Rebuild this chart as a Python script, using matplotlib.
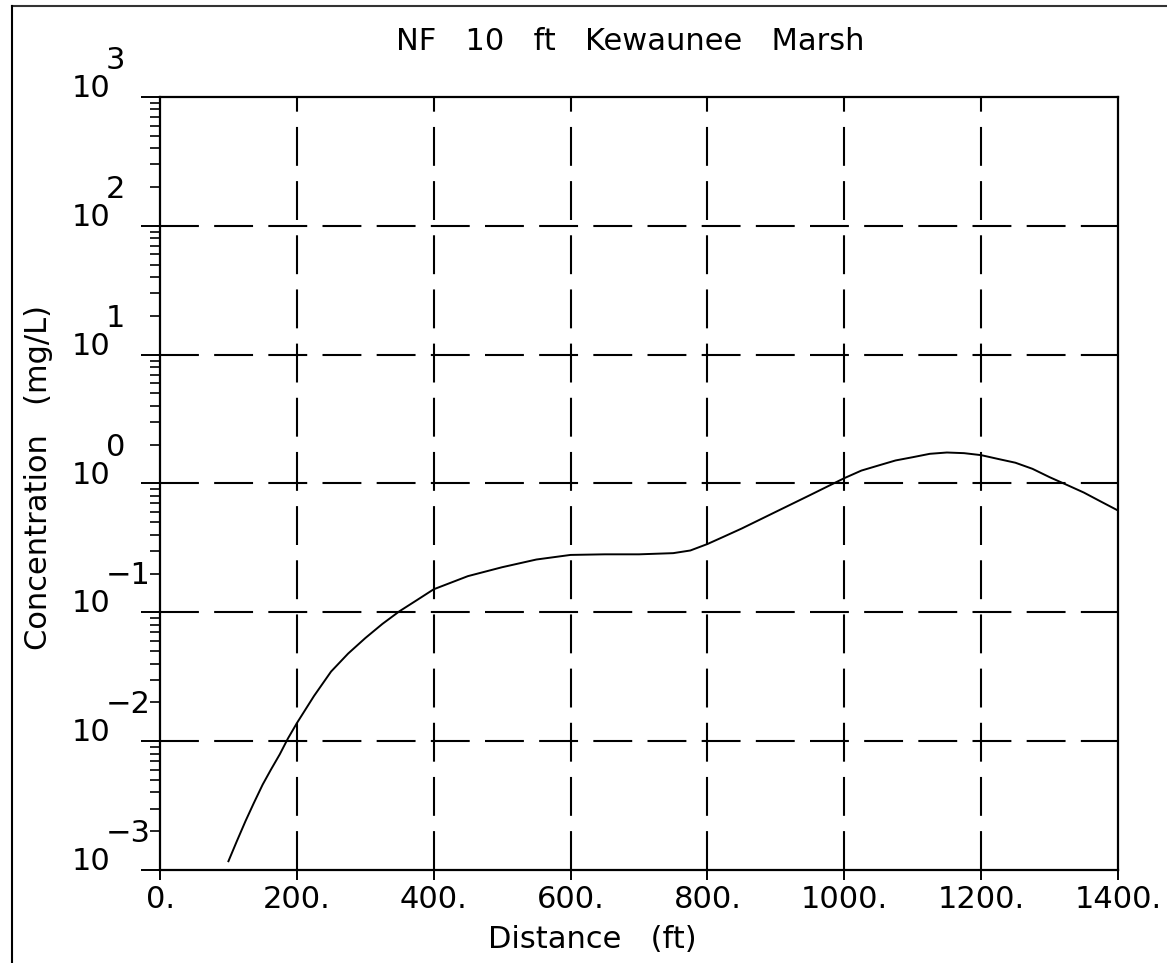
import matplotlib
matplotlib.use("Agg")
import matplotlib.pyplot as plt
import matplotlib.ticker as mticker
from matplotlib.transforms import blended_transform_factory
import numpy as np

plt.rcParams['lines.scale_dashes'] = False
plt.rcParams['font.family'] = ['DejaVu Sans']

# ---- data ----
distance_ft = [100, 112, 125, 137, 150, 162, 175, 187, 200, 225, 250, 275, 300,
               325, 350, 375, 400, 450, 500, 550, 600, 650, 700, 750, 775, 800,
               825, 850, 900, 950, 1000, 1025, 1050, 1075, 1100, 1125, 1150, 1175,
               1200, 1225, 1250, 1275, 1300, 1325, 1350, 1375, 1400]
concentration = [0.00117, 0.00166, 0.0024, 0.0033, 0.0046, 0.0060, 0.0079, 0.0105,
                 0.0138, 0.0224, 0.0347, 0.0479, 0.0631, 0.0813, 0.102, 0.124,
                 0.151, 0.191, 0.224, 0.257, 0.279, 0.282, 0.282, 0.288, 0.302,
                 0.339, 0.389, 0.447, 0.603, 0.813, 1.10, 1.26, 1.38, 1.51, 1.60,
                 1.70, 1.74, 1.72, 1.66, 1.55, 1.45, 1.30, 1.12, 0.977, 0.851,
                 0.724, 0.617]
x_ticks = [0, 200, 400, 600, 800, 1000, 1200, 1400]
x_ticklabels = ["0.", "200.", "400.", "600.", "800.", "1000.", "1200.", "1400."]
y_exponents = [-3, -2, -1, 0, 1, 2, 3]
title = "NF   10   ft   Kewaunee   Marsh"
xlabel = "Distance   (ft)"
ylabel = "Concentration   (mg/L)"

W, H = 1167, 963
FS = 22
fig = plt.figure(figsize=(W / 100, H / 100), dpi=100)
L, R, T, B = 160, 1118, 97, 870
ax = fig.add_axes([L / W, 1 - B / H, (R - L) / W, (B - T) / H])

ax.plot(distance_ft, concentration, color='black', lw=1.4)
ax.set_yscale('log')
ax.set_xlim(0, 1400)
ax.set_ylim(1e-3, 1e3)

for s in ax.spines.values():
    s.set_linewidth(1.6)

# gridlines (interior only)
dash = (28, 11)
for xv in x_ticks[1:-1]:
    ax.axvline(xv, color='black', lw=1.5, dashes=dash, zorder=1)
for e in y_exponents[1:-1]:
    ax.axhline(10.0 ** e, color='black', lw=1.5, dashes=dash, zorder=1)

ax.set_xticks(x_ticks)
ax.set_xticklabels(x_ticklabels, fontsize=FS)
ax.tick_params(axis='x', direction='inout', length=14, width=1.4, pad=4)

ax.yaxis.set_major_locator(mticker.FixedLocator([10.0 ** e for e in y_exponents]))
ax.yaxis.set_minor_locator(mticker.LogLocator(base=10, subs=np.arange(2, 10)))
ax.yaxis.set_major_formatter(mticker.NullFormatter())
ax.yaxis.set_minor_formatter(mticker.NullFormatter())
ax.tick_params(axis='y', which='major', direction='out', length=14, width=1.4)
ax.tick_params(axis='y', which='minor', direction='out', length=7, width=1.2)

# y tick labels as "10" with an exponent above-right
tr = blended_transform_factory(fig.transFigure, ax.transData)
for e in y_exponents:
    ax.text(110 / W, 10.0 ** e, "10", transform=tr, ha='right', va='baseline',
            fontsize=FS)
    ax.text(106 / W, 10.0 ** (e + 28 / 129), "\u2212%d" % (-e) if e < 0 else "%d" % e,
            transform=tr, ha='left', va='baseline', fontsize=FS)

fig.text(630 / W, 1 - 50 / H, title, ha='center', va='baseline', fontsize=FS)
fig.text(592 / W, 1 - 948 / H, xlabel, ha='center', va='baseline', fontsize=FS)
fig.text(39 / W, 1 - 478 / H, ylabel, ha='center', va='center', rotation=90,
         fontsize=FS)

# outer frame lines (top and left)
fig.add_artist(plt.Line2D([12 / W, 1.0], [1 - 6 / H, 1 - 6 / H], color='#333333',
                          lw=1.5, transform=fig.transFigure))
fig.add_artist(plt.Line2D([12 / W, 12 / W], [0.0, 1 - 6 / H], color='black',
                          lw=1.5, transform=fig.transFigure))

fig.savefig("out.png", dpi=100)
